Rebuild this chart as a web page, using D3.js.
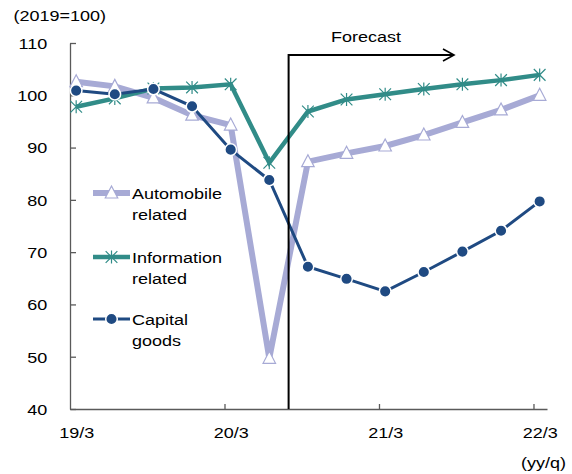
<!DOCTYPE html>
<html>
<head>
<meta charset="utf-8">
<script src="https://cdn.jsdelivr.net/npm/d3@7"></script>
<style>
  html, body { margin: 0; padding: 0; background: #fff; }
  svg { display: block; font-family: "Liberation Sans", Arial, sans-serif; }
</style>
</head>
<body>
<svg id="chart" width="572" height="474"></svg>
<script>
// Quarterly index values, 2019 = 100 (19/3 .. 22/3)
const quarters = ["19/3","19/4","20/1","20/2","20/3","20/4","21/1","21/2","21/3","21/4","22/1","22/2","22/3"];
const automobile = [102.6, 101.7, 99.5, 96.2, 94.3, 49.7, 87.3, 88.9, 90.3, 92.4, 94.8, 97.2, 100.0];
const information = [97.8, 99.4, 101.3, 101.5, 102.1, 87.1, 96.9, 99.2, 100.2, 101.2, 102.1, 102.9, 103.9];
const capital = [100.9, 100.2, 101.2, 97.9, 89.6, 83.8, 67.2, 64.9, 62.5, 66.2, 70.1, 74.1, 79.7];

const yTicks = [40, 50, 60, 70, 80, 90, 100, 110];
const xLabelIdx = [0, 4, 8, 12];
const forecastStart = 5.5;   // boundary between actuals and forecast (index units)

const seriesList = [
  { name: ["Automobile", "related"], values: automobile, color: "#a7aad5", width: 6, marker: "triangle", legendY: 193 },
  { name: ["Information", "related"], values: information, color: "#318c88", width: 4.5, marker: "star", legendY: 257 },
  { name: ["Capital", "goods"], values: capital, color: "#1f4a82", width: 3, marker: "dot", legendY: 319 }
];

const svg = d3.select("#chart");
const SX = 1.2;          // horizontal text stretch
const FONT = 15;

const x = d3.scaleLinear().domain([-0.16, 12.19]).range([70, 547]);
const y = d3.scaleLinear().domain([40, 110]).range([409, 43]);

const axisColor = "#5a5a5a";

// Y axis, ticks pointing inward
const yAxis = svg.append("g")
  .attr("transform", `translate(${x(-0.16)},0)`)
  .call(d3.axisLeft(y).tickValues(yTicks).tickSize(-6).tickSizeOuter(0).tickPadding(19));
yAxis.select(".domain").attr("stroke", axisColor).attr("stroke-width", 1.3);
yAxis.selectAll(".tick line").attr("stroke", axisColor).attr("stroke-width", 1.3);
yAxis.selectAll(".tick text")
  .attr("font-size", FONT).attr("fill", "#000")
  .attr("font-family", "Liberation Sans, Arial, sans-serif")
  .attr("dy", "0.36em")
  .attr("transform", `scale(${SX},1)`);

// X axis line with inward ticks at year boundaries
const xTickAxis = svg.append("g")
  .attr("transform", `translate(0,${y(40)})`)
  .call(d3.axisBottom(x).tickValues([4, 8, 12].map(v => v - 0.16)).tickSize(-5).tickSizeOuter(0).tickFormat(""));
xTickAxis.select(".domain").attr("stroke", axisColor).attr("stroke-width", 1.3);
xTickAxis.selectAll(".tick line").attr("stroke", axisColor).attr("stroke-width", 1.3);

// X labels centred on their quarters
const xLabelAxis = svg.append("g")
  .attr("transform", `translate(0,${y(40)})`)
  .call(d3.axisBottom(x).tickValues(xLabelIdx).tickSize(0).tickPadding(18.6).tickFormat(i => quarters[i]));
xLabelAxis.select(".domain").remove();
xLabelAxis.selectAll(".tick text")
  .attr("font-size", FONT).attr("fill", "#000")
  .attr("font-family", "Liberation Sans, Arial, sans-serif")
  .attr("transform", `scale(${SX},1)`);

function stretchedText(xp, yp, str, anchor) {
  svg.append("text")
    .attr("transform", `translate(${xp},${yp}) scale(${SX},1)`)
    .attr("text-anchor", anchor || "start")
    .attr("font-size", FONT)
    .attr("fill", "#000")
    .text(str);
}

stretchedText(13.5, 20.5, "(2019=100)");
stretchedText(566, 468, "(yy/q)", "end");

// Markers
function drawMarker(g, s, cx, cy) {
  if (s.marker === "triangle") {
    const h = 12, w = 12.5;
    g.append("path")
      .attr("d", `M${cx},${cy - h / 2 - 1}L${cx + w / 2},${cy + h / 2 - 1}L${cx - w / 2},${cy + h / 2 - 1}Z`)
      .attr("fill", "#fff").attr("stroke", s.color).attr("stroke-width", 1.2);
  } else if (s.marker === "star") {
    const r = 6.5;
    const d = r * 0.9;
    g.append("path")
      .attr("d", `M${cx},${cy - r}V${cy + r}M${cx - d},${cy - d}L${cx + d},${cy + d}M${cx - d},${cy + d}L${cx + d},${cy - d}`)
      .attr("fill", "none").attr("stroke", s.color).attr("stroke-width", 1.2);
  } else {
    g.append("circle").attr("cx", cx).attr("cy", cy).attr("r", 5.8)
      .attr("fill", s.color).attr("stroke", "#fff").attr("stroke-width", 1.5);
  }
}

const line = d3.line().x((d, i) => x(i)).y(d => y(d));

seriesList.forEach(s => {
  const g = svg.append("g");
  g.append("path").datum(s.values)
    .attr("d", line)
    .attr("fill", "none")
    .attr("stroke", s.color)
    .attr("stroke-width", s.width)
    .attr("stroke-linejoin", "miter");
  s.values.forEach((v, i) => drawMarker(g, s, x(i), y(v)));
});

// Legend
seriesList.forEach(s => {
  const g = svg.append("g");
  g.append("line")
    .attr("x1", 93).attr("x2", 130).attr("y1", s.legendY).attr("y2", s.legendY)
    .attr("stroke", s.color).attr("stroke-width", s.width);
  drawMarker(g, s, 111.5, s.legendY);
  stretchedText(132, s.legendY + 5.5, s.name[0]);
  stretchedText(132, s.legendY + 26.5, s.name[1]);
});

// Forecast marker: vertical divider and arrow
const fx = x(forecastStart);
const fy = 55;
svg.append("path")
  .attr("d", `M${fx},${y(40)}V${fy}H454`)
  .attr("fill", "none").attr("stroke", "#000").attr("stroke-width", 2);
svg.append("path")
  .attr("d", `M443,${fy - 6}L454,${fy}L443,${fy + 6}`)
  .attr("fill", "none").attr("stroke", "#000").attr("stroke-width", 1.6);
stretchedText(366, 42, "Forecast", "middle");
</script>
</body>
</html>
